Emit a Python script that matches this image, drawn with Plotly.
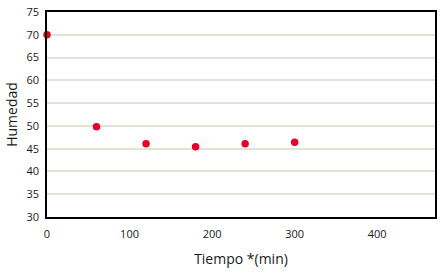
import plotly.graph_objects as go

tiempo = [0, 60, 120, 180, 240, 300]
humedad = [70.0, 49.8, 46.1, 45.4, 46.1, 46.4]
x_ticks = [0, 100, 200, 300, 400]
y_ticks = [30, 35, 40, 45, 50, 55, 60, 65, 70, 75]

fig = go.Figure()
fig.add_trace(go.Scatter(
    x=tiempo, y=humedad, mode="markers",
    marker=dict(color="#E4002B", size=7.5, line=dict(width=0)),
    cliponaxis=False, showlegend=False,
))

font_family = "Open Sans, Noto Sans, sans-serif"
fig.update_layout(
    width=446, height=279,
    margin=dict(l=47, r=11, t=12, b=62, autoexpand=False),
    paper_bgcolor="white", plot_bgcolor="white",
    font=dict(family=font_family, size=11, color="#1a1a1a"),
    xaxis=dict(
        range=[0, 470], tickvals=x_ticks, showgrid=False, zeroline=False,
        showline=True, linecolor="black", linewidth=1.5, mirror=True,
        ticks="outside", ticklen=6, tickcolor="rgba(0,0,0,0)", automargin=False,
        tickfont=dict(size=11, color="#1a1a1a"),
        title=dict(text="Tiempo *(min)", font=dict(size=14, color="#1a1a1a"), standoff=14),
    ),
    yaxis=dict(
        range=[30, 75], tickvals=y_ticks, showgrid=True, gridcolor="#E5E1D5", gridwidth=2,
        zeroline=False, showline=True, linecolor="black", linewidth=1.5, mirror=True,
        ticks="outside", ticklen=4, tickcolor="rgba(0,0,0,0)", automargin=False,
        tickfont=dict(size=11, color="#1a1a1a"),
        title=dict(text="Humedad", font=dict(size=14, color="#1a1a1a"), standoff=6),
    ),
)
fig.write_html("out.html", config={"displayModeBar": False},
               post_script="document.body.style.margin='0';")
